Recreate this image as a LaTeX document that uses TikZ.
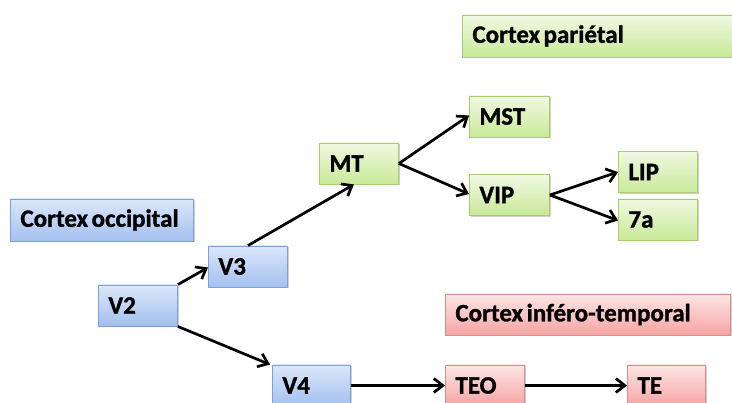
\documentclass[tikz,border=0pt]{standalone}
\usepackage{fontspec}
\setmainfont{Carlito}[BoldFeatures={FakeBold=1.2}]
\usetikzlibrary{arrows.meta,shadows}
\definecolor{bluetop}{HTML}{DCE7FA}
\definecolor{bluebot}{HTML}{A3C0EE}
\definecolor{blueline}{HTML}{7EA0D8}
\definecolor{greentop}{HTML}{F0F9E2}
\definecolor{greenbot}{HTML}{C9E999}
\definecolor{greenline}{HTML}{A6CC6C}
\definecolor{redtop}{HTML}{FDE6E6}
\definecolor{redbot}{HTML}{F5A3A3}
\definecolor{redline}{HTML}{D98A8A}
% bold label font with tight word spacing
\newcommand{\areafont}{\fontsize{25}{28}\selectfont\bfseries\fontdimen2\font=3.6pt\relax}
\tikzset{
  area/.style={rectangle, line width=0.9pt, minimum height=41pt,
    inner xsep=10pt, align=flush left, anchor=west,
    font=\areafont,
    drop shadow={shadow xshift=1.2pt, shadow yshift=-1.5pt, opacity=0.3, fill=black!60},
    shading=axis, shading angle=0},
  occ/.style={area, draw=blueline, top color=bluetop, bottom color=bluebot},
  par/.style={area, draw=greenline, top color=greentop, bottom color=greenbot},
  tem/.style={area, draw=redline, top color=redtop, bottom color=redbot},
  link/.style={line width=2.7pt, -{Straight Barb[length=9pt, width=14pt, line width=2.7pt]}},
}
\begin{document}
\begin{tikzpicture}[x=1pt, y=-1pt]
\useasboundingbox[fill=white] (0,0) rectangle (732,403);

% region labels
\node[par, text width=250pt, minimum height=42pt] (parietal) at (462,36) {Cortex pariétal};
\node[occ, text width=163pt, minimum height=42pt] (occipital) at (10,220) {Cortex occipital};
\node[tem, text width=265pt, minimum height=41pt] (inftemp) at (445,314.5) {Cortex inféro-temporal};

% occipital areas
\node[occ, text width=59pt] (v2) at (98,305.5) {V2};
\node[occ, text width=59pt] (v3) at (208,266.5) {V3};
\node[occ, text width=58pt] (v4) at (272,385.5) {V4};

% parietal areas
\node[par, text width=59pt] (mt) at (319,163.5) {MT};
\node[par, text width=60pt] (mst) at (469,116.5) {MST};
\node[par, text width=60pt] (vip) at (469,195) {VIP};
\node[par, text width=59pt] (lip) at (618,172) {LIP};
\node[par, text width=59pt] (sevena) at (618,219.5) {7a};

% inferotemporal areas
\node[tem, text width=59pt] (teo) at (445,385.5) {TEO};
\node[tem, text width=58pt] (te) at (627,385.5) {TE};

% connections
\draw[link] (v2.north east) -- ([yshift=-1pt]v3.west);
\draw[link] (v2.south east) -- ([xshift=-2pt]v4.north west);
\draw[link] (v3.north) -- ([xshift=-5pt]mt.south);
\draw[link] (mt.east) -- ([yshift=1pt]mst.west);
\draw[link] (mt.east) -- ([yshift=1pt]vip.west);
\draw[link] (vip.east) -- (lip.west);
\draw[link] (vip.east) -- ([yshift=-1pt]sevena.west);
\draw[link] (v4.east) -- (teo.west);
\draw[link] (teo.east) -- (te.west);
\end{tikzpicture}
\end{document}
